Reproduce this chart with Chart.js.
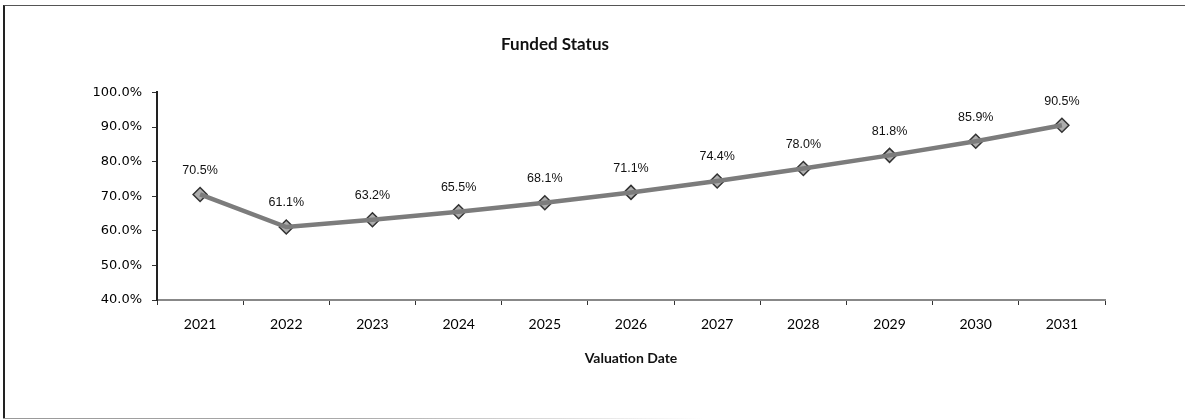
<!DOCTYPE html>
<html><head><meta charset="utf-8">
<script src="https://cdn.jsdelivr.net/npm/chart.js@4"></script>
<style>
html,body{margin:0;padding:0;background:#fff;overflow:hidden;}
#frame{position:absolute;left:3px;top:5px;width:1182px;height:414px;border-left:2px solid #222;border-top:1px solid #555;box-sizing:border-box;}
#bottomline{position:absolute;left:3px;top:418px;width:700px;height:1px;background:linear-gradient(to right,#999 0%,#aaa 50%,rgba(200,200,200,0) 100%);}
#c{display:block;}
</style></head><body>
<div id="frame"><canvas id="c" width="1180" height="413"></canvas></div>
<div id="bottomline"></div>
<script>
const categories = ["2021","2022","2023","2024","2025","2026","2027","2028","2029","2030","2031"];
const fundedStatus = [70.5, 61.1, 63.2, 65.5, 68.1, 71.1, 74.4, 78.0, 81.8, 85.9, 90.5];
const yTickValues = [40, 50, 60, 70, 80, 90, 100];
const chartTitle = "Funded Status";
const xAxisTitle = "Valuation Date";

const labelPlugin = {
  id: 'pointLabels',
  afterDatasetsDraw(chart) {
    const ctx = chart.ctx;
    const meta = chart.getDatasetMeta(1);
    ctx.save();
    ctx.font = '12.5px "Liberation Sans", Arial, sans-serif';
    ctx.fillStyle = '#111';
    ctx.textAlign = 'center';
    ctx.textBaseline = 'middle';
    meta.data.forEach((pt, i) => {
      ctx.fillText(fundedStatus[i].toFixed(1) + '%', pt.x, pt.y - 24);
    });
    ctx.restore();
  }
};

new Chart(document.getElementById('c'), {
  type: 'line',
  data: {
    labels: categories,
    datasets: [
      { data: fundedStatus, borderColor: '#7c7c7c', borderWidth: 4.5, pointRadius: 0, tension: 0, fill: false },
      { data: fundedStatus, borderColor: '#bdbdbd', borderWidth: 2, tension: 0, fill: false,
        pointStyle: 'rectRot', pointRadius: 7, pointBackgroundColor: '#adadad', pointBorderColor: '#333', pointBorderWidth: 1.5 }
    ]
  },
  options: {
    responsive: false,
    animation: false,
    layout: { padding: { left: 0, right: 80, bottom: 49, top: 0 } },
    plugins: {
      legend: { display: false },
      tooltip: { enabled: false },
      title: { display: true, text: chartTitle, color: '#111',
        font: { family: 'Lato', size: 17, weight: 'bold' }, padding: { top: 28, bottom: 38 } }
    },
    scales: {
      x: {
        offset: true,
        grid: { offset: true, drawOnChartArea: false, drawTicks: true, tickLength: 5, color: '#333' },
        border: { color: '#888', width: 2 },
        ticks: { color: '#000', font: { family: 'Lato', size: 14 }, padding: 11, maxRotation: 0 },
        title: { display: true, text: xAxisTitle, color: '#111', font: { family: 'Lato', size: 14, weight: 'bold' }, padding: { top: 0, bottom: 3 } },
        afterFit(s) { s.height = 70; }
      },
      y: {
        min: 40, max: 100,
        afterBuildTicks(s) { s.ticks = yTickValues.map(v => ({ value: v })); },
        grid: { drawOnChartArea: false, drawTicks: true, tickLength: 5, color: '#333' },
        border: { color: '#222', width: 2 },
        ticks: { color: '#000', font: { family: 'DejaVu Sans', size: 13 }, padding: 10,
          callback: v => v.toFixed(1) + '%' },
        afterFit(s) { s.width = 152; }
      }
    }
  },
  plugins: [labelPlugin]
});
</script>
</body></html>
